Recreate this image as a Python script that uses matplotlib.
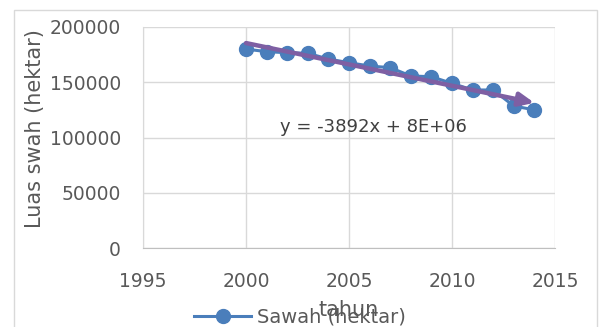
import numpy as np
import matplotlib.pyplot as plt
from matplotlib.patches import Rectangle

# data
tahun = [2000, 2001, 2002, 2003, 2004, 2005, 2006, 2007,
         2008, 2009, 2010, 2011, 2012, 2013, 2014]
sawah = [180000, 177700, 176700, 176200, 171000, 167700, 164700, 163200,
         155700, 155000, 149000, 143000, 143000, 128500, 125000]
x_ticks = [1995, 2000, 2005, 2010, 2015]
y_ticks = [0, 50000, 100000, 150000, 200000]

grey = '#595959'
blue = '#4A7EBB'
purple = '#7E5FA3'

fig = plt.figure(figsize=(6, 3.27), dpi=100)
fig.patches.append(Rectangle((14 / 600, -0.1), 583 / 600, 1.1 - 10 / 327,
                             transform=fig.transFigure, fill=False,
                             edgecolor='#d9d9d9', linewidth=1))
ax = fig.add_axes([143 / 600, 1 - 248 / 327, 412 / 600, 221 / 327])

ax.plot(tahun, sawah, color=blue, linewidth=2.2, marker='o', markersize=10,
        label='Sawah (hektar)', zorder=3)

# linear trend line
k, b = np.polyfit(tahun, sawah, 1)
x0, x1 = tahun[0], tahun[-1]
ax.annotate('', xy=(x1, k * x1 + b), xytext=(x0, k * x0 + b),
            arrowprops=dict(arrowstyle='-|>,head_length=0.9,head_width=0.4',
                            color=purple, linewidth=3.2, shrinkA=0, shrinkB=0),
            zorder=4)
ax.text(2006.2, 109500, 'y = -3892x + 8E+06', ha='center', va='center',
        fontsize=13, color='#404040')

ax.set_xlim(1995, 2015)
ax.set_ylim(0, 200000)
ax.set_xticks(x_ticks)
ax.set_yticks(y_ticks)
ax.grid(True, color='#d9d9d9', linewidth=1)
ax.set_axisbelow(True)
for side in ['top', 'right']:
    ax.spines[side].set_visible(False)
ax.spines['left'].set_color('#d9d9d9')
ax.spines['bottom'].set_color('#bfbfbf')
ax.tick_params(length=0, labelsize=13.5, labelcolor=grey)
ax.tick_params(axis='x', pad=17)
ax.tick_params(axis='y', pad=16)
ax.set_xlabel('tahun', fontsize=15, color=grey)
ax.xaxis.set_label_coords(0.5, -0.235)
ax.set_ylabel('Luas swah (hektar)', fontsize=15, color=grey)
ax.yaxis.set_label_coords(-0.238, 0.54)

fig.legend(loc='center', bbox_to_anchor=(0.5, 0.03), frameon=False,
           fontsize=14, labelcolor=grey, handlelength=2.9, handletextpad=0.3)

fig.savefig('out.png', dpi=100)
